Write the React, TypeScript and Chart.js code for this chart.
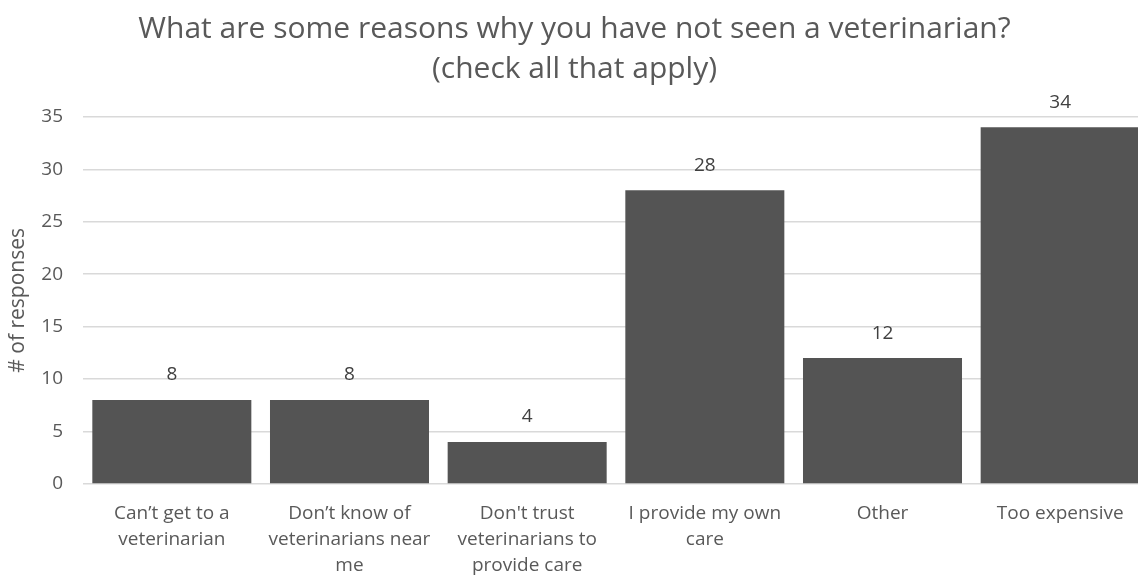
import React, { useEffect, useRef } from "react";
import { Chart, registerables } from "chart.js";

Chart.register(...registerables);

const categories: (string | string[])[] = [
  ["Can\u2019t get to a", "veterinarian"],
  ["Don\u2019t know of", "veterinarians near", "me"],
  ["Don't trust", "veterinarians to", "provide care"],
  ["I provide my own", "care"],
  "Other",
  "Too expensive",
];
const responses = [8, 8, 4, 28, 12, 34];
const yTicks = [0, 5, 10, 15, 20, 25, 30, 35];
const titleLines = [
  "What are some reasons why you have not seen a veterinarian?",
  "(check all that apply)",
];
const yTitle = "# of responses";

const FONT = "'Open Sans', 'Noto Sans', sans-serif";
const TEXT = "#595959";

const barLabels = {
  id: "barLabels",
  afterDatasetsDraw(chart: any) {
    const ctx = chart.ctx;
    ctx.save();
    ctx.font = `19px ${FONT}`;
    ctx.fillStyle = "#404040";
    ctx.textAlign = "center";
    ctx.textBaseline = "middle";
    chart.getDatasetMeta(0).data.forEach((bar: any, i: number) => {
      ctx.fillText(String(chart.data.datasets[0].data[i]), bar.x, bar.y - 25);
    });
    ctx.restore();
  },
};

export default function App() {
  const ref = useRef<HTMLCanvasElement>(null);
  useEffect(() => {
    if (!ref.current) return;
    const chart = new Chart(ref.current, {
      type: "bar",
      data: {
        labels: categories,
        datasets: [
          {
            data: responses,
            backgroundColor: "#545454",
            borderWidth: 0,
            categoryPercentage: 1,
            barPercentage: 0.895,
          },
        ],
      },
      options: {
        responsive: false,
        animation: false,
        layout: { padding: 0 },
        plugins: {
          legend: { display: false },
          tooltip: { enabled: false },
          title: {
            display: true,
            text: titleLines,
            color: TEXT,
            font: { family: FONT, size: 30, weight: "normal", lineHeight: 1.33 },
            padding: { top: 10, bottom: 27 },
          },
        },
        scales: {
          x: {
            grid: { display: false, drawTicks: false },
            border: { display: false },
            ticks: {
              color: TEXT,
              font: { family: FONT, size: 19, lineHeight: 1.37 },
              padding: 17,
              maxRotation: 0,
              autoSkip: false,
            },
            afterFit(scale: any) {
              scale.height = 94;
            },
          },
          y: {
            min: 0,
            max: 35,
            afterBuildTicks(scale: any) {
              scale.ticks = yTicks.map((v) => ({ value: v }));
            },
            grid: { color: "#d9d9d9", lineWidth: 1.5, drawTicks: false },
            border: { display: false },
            ticks: {
              color: TEXT,
              font: { family: FONT, size: 19 },
              padding: 20,
            },
            title: {
              display: true,
              text: yTitle,
              color: TEXT,
              font: { family: FONT, size: 21, lineHeight: 1.2 },
              padding: { top: 5, bottom: 0 },
            },
            afterFit(scale: any) {
              scale.width = 83;
            },
          },
        },
      },
      plugins: [barLabels],
    });
    return () => chart.destroy();
  }, []);
  return (
    <div
      style={{
        position: "fixed",
        top: 0,
        left: 0,
        width: 1138,
        height: 578,
        overflow: "hidden",
        background: "#fff",
      }}
    >
      <canvas ref={ref} width={1149} height={578} style={{ display: "block" }} />
    </div>
  );
}
